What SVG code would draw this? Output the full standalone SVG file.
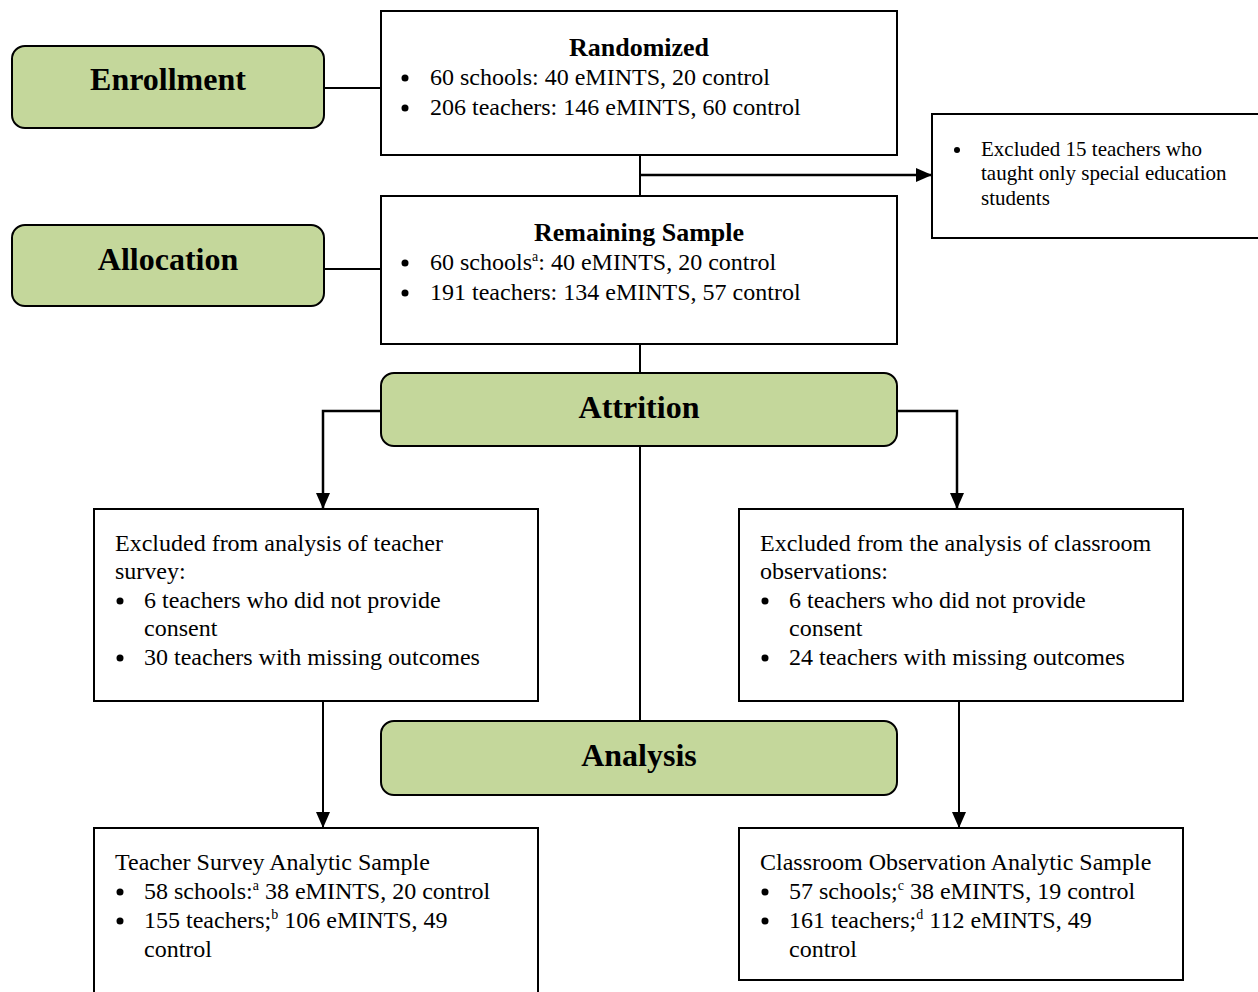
<svg xmlns="http://www.w3.org/2000/svg" width="1258" height="992" viewBox="0 0 1258 992">
<defs>
<marker id="ah" viewBox="0 0 16 14" refX="16" refY="7" markerWidth="16" markerHeight="14" markerUnits="userSpaceOnUse" orient="auto">
<path d="M0,0 L16,7 L0,14 Z" fill="#000"/>
</marker>
<style>
.stage{fill:#c4d79b;stroke:#000;stroke-width:2}
.box{fill:#fff;stroke:#000;stroke-width:2}
.conn{fill:none;stroke:#000;stroke-width:2}
.arr{fill:none;stroke:#000;stroke-width:2.5;marker-end:url(#ah)}
.dot{fill:#000}
.st{font-family:"Liberation Serif","Times New Roman",serif;font-weight:bold;font-size:32px;fill:#000;text-anchor:middle}
.hd{font-family:"Liberation Serif","Times New Roman",serif;font-weight:bold;font-size:26px;fill:#000;text-anchor:middle}
.tx{font-family:"Liberation Serif","Times New Roman",serif;font-size:24px;fill:#000}
.sm{font-family:"Liberation Serif","Times New Roman",serif;font-size:21px;fill:#000}
.sup{font-size:14px}
</style>
</defs>

<g id="connectors">
<line class="conn" x1="324" y1="88" x2="381" y2="88"/>
<line class="conn" x1="324" y1="269" x2="381" y2="269"/>
<line class="conn" x1="640" y1="155" x2="640" y2="196"/>
<line class="arr" x1="640" y1="175" x2="932" y2="175"/>
<line class="conn" x1="640" y1="344" x2="640" y2="373"/>
<polyline class="arr" points="381,411 323,411 323,509"/>
<polyline class="arr" points="897,411 957,411 957,509"/>
<line class="conn" x1="640" y1="446" x2="640" y2="721"/>
<line class="conn" x1="323" y1="701" x2="323" y2="828" style="marker-end:url(#ah)"/>
<line class="conn" x1="959" y1="701" x2="959" y2="828" style="marker-end:url(#ah)"/>
</g>

<g id="enrollment">
<rect class="stage" x="12" y="46" width="312" height="82" rx="13"/>
<text class="st" x="168" y="90">Enrollment</text>
</g>

<g id="allocation">
<rect class="stage" x="12" y="225" width="312" height="81" rx="13"/>
<text class="st" x="168" y="270">Allocation</text>
</g>

<g id="randomized">
<rect class="box" x="381" y="11" width="516" height="144"/>
<text class="hd" x="639" y="56">Randomized</text>
<circle class="dot" cx="405" cy="78" r="3.5"/>
<text class="tx" x="430" y="85">60 schools: 40 eMINTS, 20 control</text>
<circle class="dot" cx="405" cy="108" r="3.5"/>
<text class="tx" x="430" y="115">206 teachers: 146 eMINTS, 60 control</text>
</g>

<g id="excluded-special">
<rect class="box" x="932" y="114" width="340" height="124"/>
<circle class="dot" cx="957" cy="150" r="3"/>
<text class="sm" x="981" y="156">Excluded 15 teachers who</text>
<text class="sm" x="981" y="180">taught only special education</text>
<text class="sm" x="981" y="205">students</text>
</g>

<g id="remaining">
<rect class="box" x="381" y="196" width="516" height="148"/>
<text class="hd" x="639" y="241">Remaining Sample</text>
<circle class="dot" cx="405" cy="263" r="3.5"/>
<text class="tx" x="430" y="270">60 schools<tspan class="sup" dy="-9">a</tspan><tspan dy="9">: 40 eMINTS, 20 control</tspan></text>
<circle class="dot" cx="405" cy="293" r="3.5"/>
<text class="tx" x="430" y="300">191 teachers: 134 eMINTS, 57 control</text>
</g>

<g id="attrition">
<rect class="stage" x="381" y="373" width="516" height="73" rx="13"/>
<text class="st" x="639" y="418">Attrition</text>
</g>

<g id="excluded-survey">
<rect class="box" x="94" y="509" width="444" height="192"/>
<text class="tx" x="115" y="551">Excluded from analysis of teacher</text>
<text class="tx" x="115" y="579">survey:</text>
<circle class="dot" cx="120" cy="601" r="3.5"/>
<text class="tx" x="144" y="608">6 teachers who did not provide</text>
<text class="tx" x="144" y="636">consent</text>
<circle class="dot" cx="120" cy="658" r="3.5"/>
<text class="tx" x="144" y="665">30 teachers with missing outcomes</text>
</g>

<g id="excluded-observation">
<rect class="box" x="739" y="509" width="444" height="192"/>
<text class="tx" x="760" y="551">Excluded from the analysis of classroom</text>
<text class="tx" x="760" y="579">observations:</text>
<circle class="dot" cx="765" cy="601" r="3.5"/>
<text class="tx" x="789" y="608">6 teachers who did not provide</text>
<text class="tx" x="789" y="636">consent</text>
<circle class="dot" cx="765" cy="658" r="3.5"/>
<text class="tx" x="789" y="665">24 teachers with missing outcomes</text>
</g>

<g id="analysis">
<rect class="stage" x="381" y="721" width="516" height="74" rx="13"/>
<text class="st" x="639" y="766">Analysis</text>
</g>

<g id="survey-sample">
<rect class="box" x="94" y="828" width="444" height="180"/>
<text class="tx" x="115" y="870">Teacher Survey Analytic Sample</text>
<circle class="dot" cx="120" cy="892" r="3.5"/>
<text class="tx" x="144" y="899">58 schools:<tspan class="sup" dy="-9">a</tspan><tspan dy="9"> 38 eMINTS, 20 control</tspan></text>
<circle class="dot" cx="120" cy="921" r="3.5"/>
<text class="tx" x="144" y="928">155 teachers;<tspan class="sup" dy="-9">b</tspan><tspan dy="9"> 106 eMINTS, 49</tspan></text>
<text class="tx" x="144" y="957">control</text>
</g>

<g id="observation-sample">
<rect class="box" x="739" y="828" width="444" height="152"/>
<text class="tx" x="760" y="870">Classroom Observation Analytic Sample</text>
<circle class="dot" cx="765" cy="892" r="3.5"/>
<text class="tx" x="789" y="899">57 schools;<tspan class="sup" dy="-9">c</tspan><tspan dy="9"> 38 eMINTS, 19 control</tspan></text>
<circle class="dot" cx="765" cy="921" r="3.5"/>
<text class="tx" x="789" y="928">161 teachers;<tspan class="sup" dy="-9">d</tspan><tspan dy="9"> 112 eMINTS, 49</tspan></text>
<text class="tx" x="789" y="957">control</text>
</g>
</svg>
